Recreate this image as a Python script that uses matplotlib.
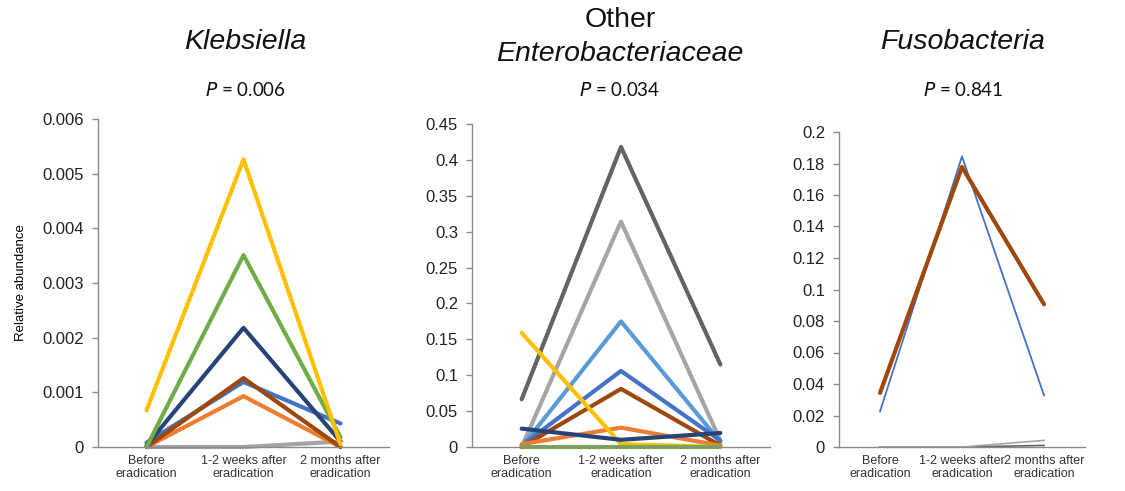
import numpy as np
import matplotlib
matplotlib.use("Agg")
import matplotlib.pyplot as plt

plt.rcParams['font.family'] = ['Liberation Sans', 'DejaVu Sans']

categories = ["Before\neradication", "1-2 weeks after\neradication", "2 months after\neradication"]

# office palette
orange = "#ED7D31"
gray = "#A5A5A5"
yellow = "#FFC000"
blue = "#4472C4"
green = "#70AD47"
navy = "#264478"
brown = "#9E480E"
dgray = "#636363"
lblue = "#5B9BD5"

# Klebsiella
kleb_gray = [0, 0, 0.0001]
kleb_orange = [0, 0.00093, 0]
kleb_blue = [0.00008, 0.00119, 0.00043]
kleb_brown = [0, 0.00126, 0]
kleb_navy = [0.00003, 0.00218, 0.0001]
kleb_green = [0, 0.00351, 0.00018]
kleb_yellow = [0.00067, 0.00526, 0.00005]

# Other Enterobacteriaceae
ent_green = [0, 0, 0]
ent_orange = [0.004, 0.027, 0.002]
ent_dgray = [0.0665, 0.418, 0.115]
ent_gray = [0, 0.314, 0.009]
ent_lblue = [0, 0.175, 0.007]
ent_blue = [0.002, 0.106, 0.009]
ent_brown = [0, 0.081, 0.002]
ent_yellow = [0.159, 0.004, 0]
ent_navy = [0.0256, 0.010, 0.0195]

# Fusobacteria
fuso_dgray = [0, 0, 0.001]
fuso_gray = [0, 0, 0.0042]
fuso_blue = [0.0226, 0.1845, 0.0328]
fuso_brown = [0.0343, 0.1778, 0.0906]

W, H = 1125, 491
fig = plt.figure(figsize=(W/100, H/100), dpi=100)

def px_axes(l, r, top, bottom=447):
    return fig.add_axes([l/W, (H-bottom)/H, (r-l)/W, (bottom-top)/H])

def style(ax, ymax, step, fmt):
    ax.set_xlim(-0.5, 2.5)
    ax.set_ylim(0, ymax)
    ax.set_yticks(np.arange(0, ymax + step/2, step))
    ax.set_yticklabels([fmt(v) for v in np.arange(0, ymax + step/2, step)])
    ax.set_xticks(range(3))
    ax.set_xticklabels(categories, fontsize=9, color="#333333", linespacing=1.1)
    for s in ["top", "right"]:
        ax.spines[s].set_visible(False)
    for s in ["left", "bottom"]:
        ax.spines[s].set_color("#8a8a8a")
        ax.spines[s].set_linewidth(1.0)
    ax.tick_params(axis="y", labelsize=12, colors="#8a8a8a", labelcolor="#222222", length=4, width=1, pad=6)
    ax.tick_params(axis="x", length=0, pad=6)

def fmt_num(v):
    s = "%.3f" % v
    s = s.rstrip("0").rstrip(".")
    return "0" if s in ("0", "") else s

lw = 3.0
x = range(3)

ax1 = px_axes(98, 389, 119)
for vals, c in [(kleb_gray, gray), (kleb_orange, orange), (kleb_blue, blue), (kleb_brown, brown),
                (kleb_navy, navy), (kleb_green, green), (kleb_yellow, yellow)]:
    ax1.plot(x, vals, color=c, lw=lw, solid_capstyle="round", clip_on=False)
style(ax1, 0.006, 0.001, fmt_num)
ax1.set_ylabel("Relative abundance", fontsize=9.5, labelpad=11)

ax2 = px_axes(472, 770, 124)
for vals, c in [(ent_dgray, dgray), (ent_gray, gray), (ent_lblue, lblue), (ent_blue, blue),
                (ent_brown, brown), (ent_orange, orange), (ent_yellow, yellow), (ent_navy, navy),
                (ent_green, green)]:
    ax2.plot(x, vals, color=c, lw=lw, solid_capstyle="round", clip_on=False)
style(ax2, 0.45, 0.05, lambda v: fmt_num(round(v, 2)))

ax3 = px_axes(839, 1085, 132)
ax3.plot(x, fuso_dgray, color=dgray, lw=1.2, clip_on=False)
ax3.plot(x, fuso_gray, color=gray, lw=1.2, clip_on=False)
ax3.plot(x, fuso_blue, color=blue, lw=1.3, clip_on=False)
ax3.plot(x, fuso_brown, color=brown, lw=lw, solid_capstyle="round", clip_on=False)
style(ax3, 0.2, 0.02, lambda v: fmt_num(round(v, 2)))

# titles
tkw = dict(ha="center", va="center", fontsize=20.5, style="italic", color="#111111")
fig.text(245/W, 1-42/H, "Klebsiella", **tkw)
fig.text(620/W, 1-20/H, "Other", ha="center", va="center", fontsize=20.5, color="#111111")
fig.text(620/W, 1-54/H, "Enterobacteriaceae", **tkw)
fig.text(963/W, 1-42/H, "Fusobacteria", **tkw)

pkw = dict(ha="center", va="center", fontsize=13.5, color="#111111", family=["Lato", "DejaVu Sans"])
fig.text(245/W, 1-90/H, "$\\it{P}$ = 0.006", **pkw)
fig.text(620/W, 1-90/H, "$\\it{P}$ = 0.034", **pkw)
fig.text(963/W, 1-90/H, "$\\it{P}$ = 0.841", **pkw)

fig.savefig("out.png", dpi=100)
